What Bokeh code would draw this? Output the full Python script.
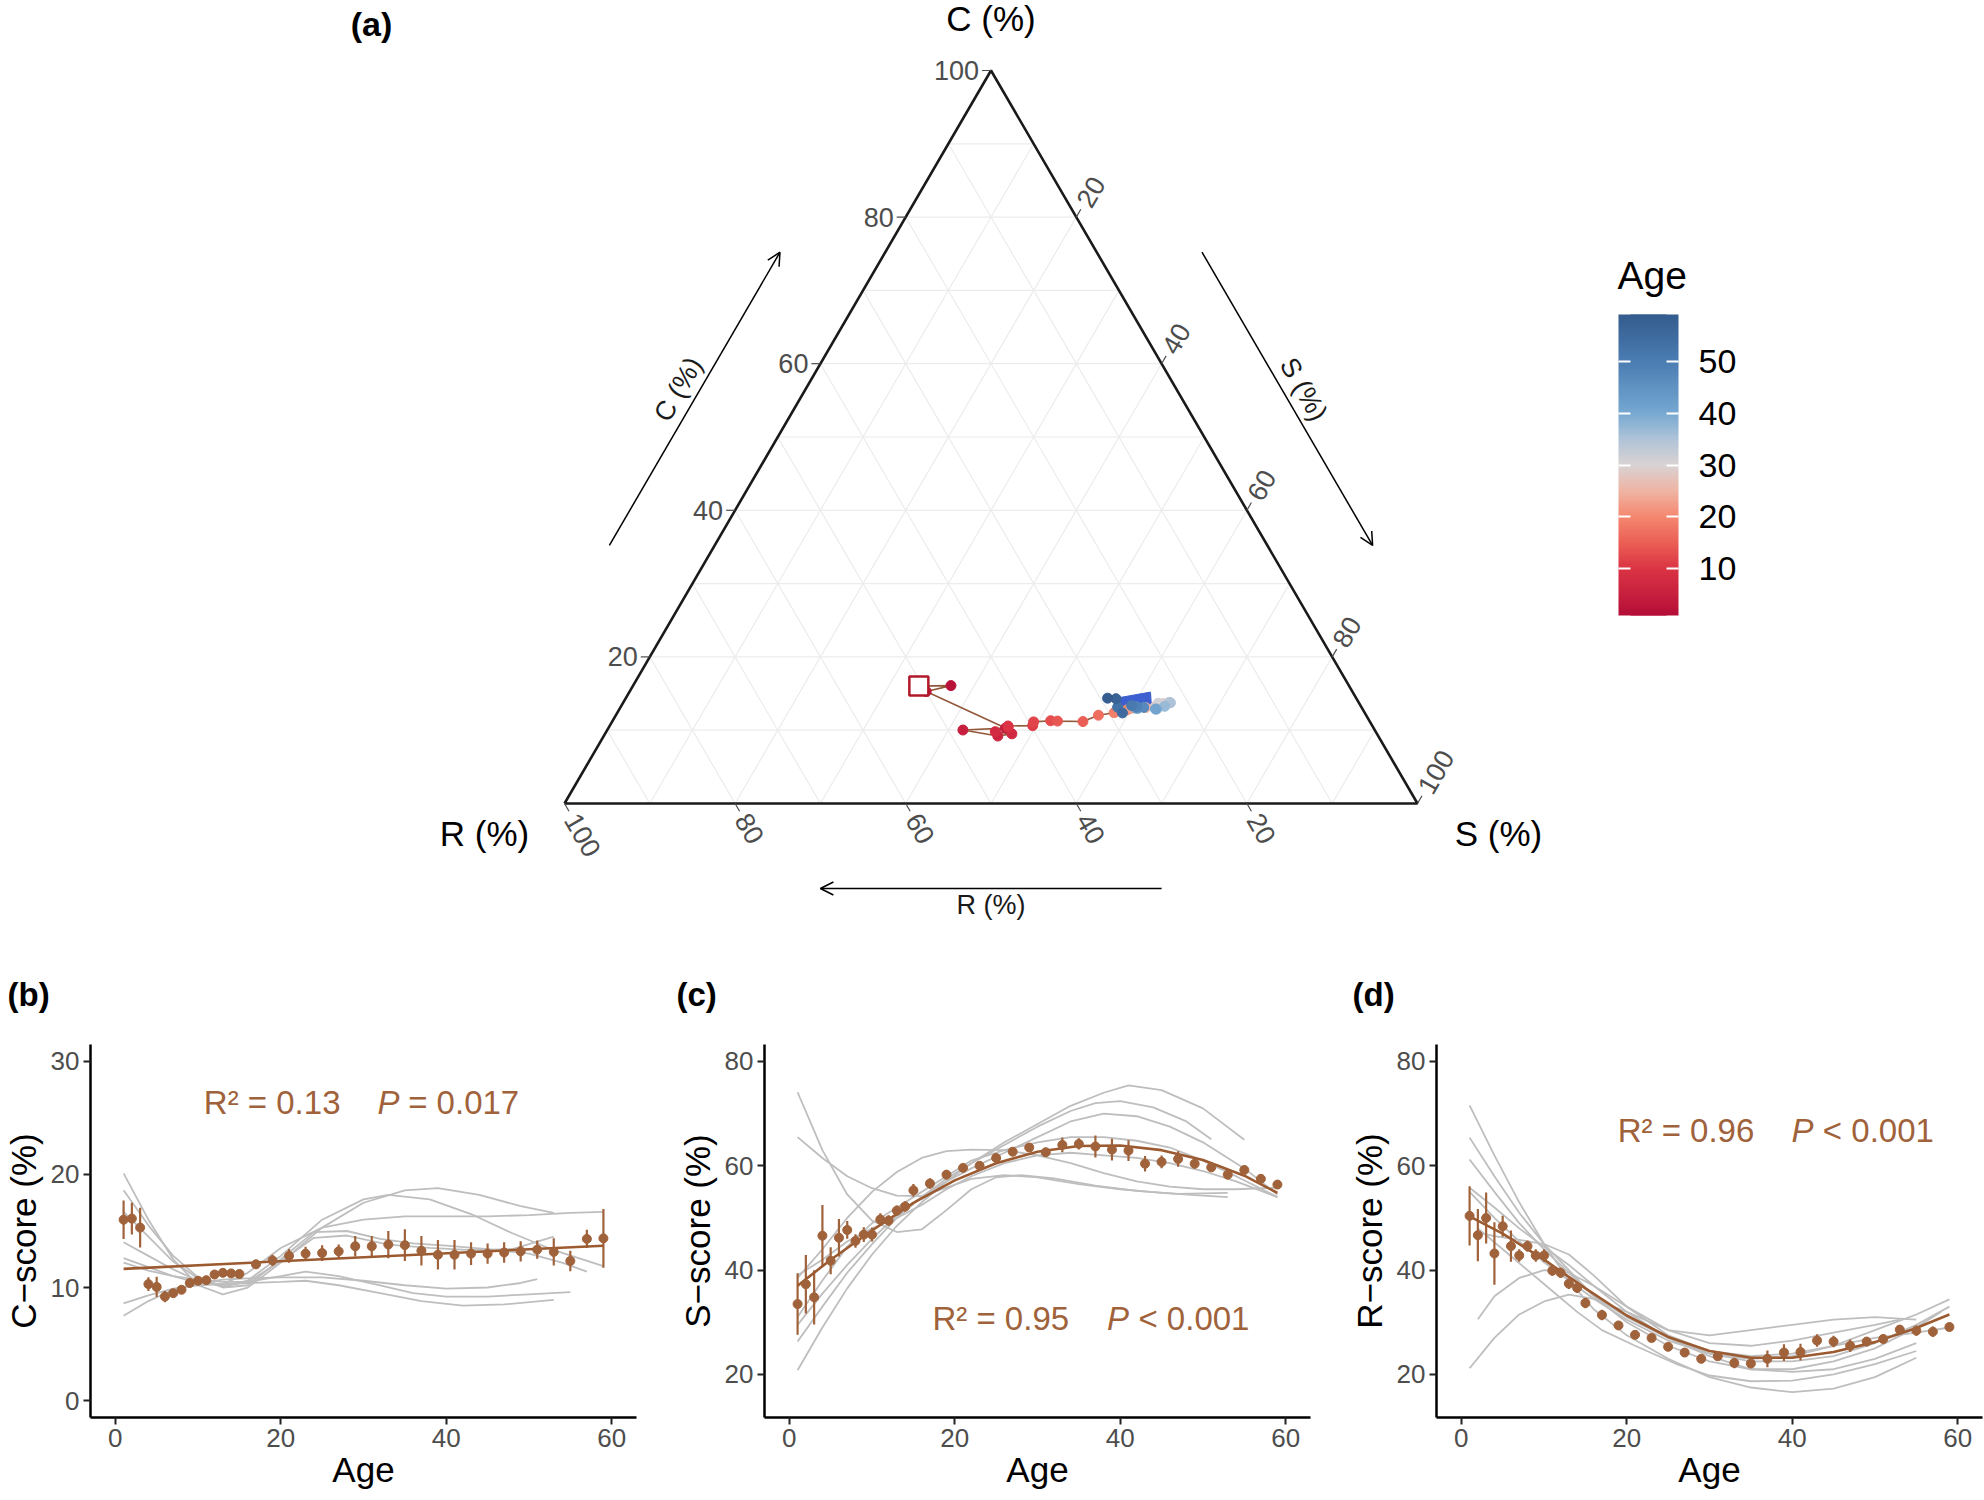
import numpy as np
from bokeh.plotting import figure
from bokeh.models import (Range1d, FixedTicker, ColumnDataSource, Label, Arrow, OpenHead,
                          LinearColorMapper, ColorBar)
from bokeh.layouts import column, row
from bokeh.embed import file_html
from bokeh.resources import INLINE
from bokeh.core.properties import value
from bokeh.transform import transform

# ---------------- data ----------------
ages = [1, 2, 3, 4, 5, 6, 7, 8, 9, 10, 11, 12, 13, 14, 15,
        17, 19, 21, 23, 25, 27, 29, 31, 33, 35, 37, 39, 41, 43, 45, 47, 49, 51, 53, 55, 57, 59]

c_mean = [16.0, 16.1, 15.3, 10.3, 10.05, 9.2, 9.5, 9.8, 10.4, 10.6, 10.65, 11.15, 11.3, 11.25, 11.2,
          12.05, 12.4, 12.8, 13.0, 13.05, 13.2, 13.65, 13.65, 13.8, 13.75, 13.25, 12.9, 12.9, 13.0,
          13.0, 13.1, 13.2, 13.35, 13.15, 12.35, 14.3, 14.35]
c_err = [1.7, 1.4, 1.75, 0.6, 0.9, 0.5, 0.3, 0.3, 0.35, 0.3, 0.3, 0.3, 0.3, 0.3, 0.3,
         0.4, 0.5, 0.6, 0.6, 0.7, 0.6, 0.9, 0.9, 1.2, 1.4, 1.3, 1.3, 1.3, 1.0, 0.9, 0.9, 0.9,
         0.8, 1.2, 0.9, 0.8, 2.6]

s_mean = [33.5, 37.3, 34.8, 46.6, 41.8, 46.2, 47.7, 45.6, 46.8, 46.8, 49.7, 49.5, 51.4, 52.2, 55.3,
          56.6, 58.3, 59.6, 60.0, 61.5, 62.7, 63.5, 62.6, 64.0, 64.2, 63.7, 63.1, 62.9, 60.4,
          60.75, 61.3, 60.4, 59.7, 58.3, 59.2, 57.5, 56.4]
s_err = [5.9, 5.6, 5.2, 5.9, 2.6, 3.6, 1.7, 1.3, 1.4, 1.3, 1.2, 1.0, 1.0, 1.0, 1.2,
         1.0, 0.9, 0.7, 0.5, 0.6, 0.7, 0.8, 0.8, 1.4, 1.1, 2.1, 2.1, 2.0, 1.5, 1.2, 1.5, 0.9,
         0.8, 0.9, 0.6, 0.5, 0.6]

r_mean = [50.4, 46.7, 50.0, 43.2, 48.4, 44.6, 42.8, 44.6, 42.8, 42.8, 39.9, 39.5, 37.4, 36.6, 33.7,
          31.4, 29.4, 27.6, 27.0, 25.3, 24.2, 23.0, 23.5, 22.2, 22.1, 23.0, 24.2, 24.3, 26.5,
          26.3, 25.5, 26.3, 26.8, 28.6, 28.4, 28.2, 29.1]
r_err = [5.7, 5.0, 4.9, 6.0, 2.0, 3.0, 1.2, 1.1, 1.2, 1.2, 1.0, 1.0, 1.0, 1.0, 1.0,
         1.0, 0.7, 0.6, 0.6, 0.5, 0.6, 0.5, 0.7, 1.0, 0.8, 1.6, 1.6, 1.6, 1.2, 1.1, 1.2, 0.9,
         0.8, 0.9, 1.0, 1.0, 0.6]

# fitted (population) curves
c_fit_age = [1, 59]
c_fit_val = [11.65, 13.7]
s_fit_age = [1, 5, 10, 15, 20, 25, 30, 35, 40, 45, 50, 55, 59]
s_fit_val = [37.0, 42.0, 47.6, 52.9, 57.2, 60.5, 62.7, 63.8, 63.9, 63.0, 61.1, 58.1, 54.8]
r_fit_age = [1, 5, 10, 15, 20, 25, 30, 35, 40, 45, 50, 55, 59]
r_fit_val = [50.3, 47.0, 42.0, 36.5, 31.3, 27.2, 24.5, 23.2, 23.2, 24.3, 26.2, 28.9, 31.5]

# individual (grey) curves
c_gray_ages = [
    [1, 4, 7, 10, 13, 16, 20, 25, 30, 35, 39, 44, 49, 53],
    [1, 4, 7, 10, 13, 16, 20, 25, 30, 33, 38, 43, 48, 53, 59],
    [1, 4, 7, 10, 13, 16, 20, 25, 30, 35, 40, 45, 50, 55, 59],
    [1, 4, 7, 10, 13, 16, 20, 24, 28, 32, 36, 40, 45, 50, 54, 57],
    [1, 4, 7, 10, 13, 16, 20, 23, 27, 32, 36, 40, 45, 50, 55],
    [1, 4, 7, 10, 13, 16, 20, 25, 30, 35, 40, 45, 49, 51],
    [1, 4, 7, 10, 13, 16, 20, 23, 27, 32, 37, 42, 47, 53],
    [1, 4, 7, 10, 13, 16, 20, 24, 28, 33, 38, 43, 48, 53],
]
c_gray_vals = [
    [20.1, 16.0, 12.5, 10.2, 9.4, 10.0, 12.2, 15.3, 17.5, 18.6, 18.8, 18.2, 17.2, 16.6],
    [18.6, 15.5, 12.8, 10.9, 10.1, 10.6, 12.8, 16.0, 17.8, 18.2, 17.8, 16.5, 14.8, 13.3, 11.9],
    [12.6, 11.8, 11.0, 10.4, 10.3, 11.3, 13.5, 15.3, 16.0, 16.3, 16.3, 16.3, 16.4, 16.6, 16.7],
    [16.7, 14.5, 12.3, 10.8, 10.0, 10.2, 12.5, 14.9, 15.0, 14.3, 13.9, 13.7, 13.4, 13.0, 12.2, 11.4],
    [12.2, 11.5, 11.0, 10.7, 10.5, 10.5, 11.0, 11.4, 11.0, 10.2, 9.5, 9.2, 9.2, 9.4, 9.6],
    [7.5, 8.8, 9.8, 10.4, 10.7, 10.8, 10.9, 10.9, 10.6, 10.2, 9.9, 10.0, 10.4, 10.75],
    [8.6, 9.3, 9.9, 10.2, 10.3, 10.4, 10.5, 10.6, 10.2, 9.5, 8.8, 8.4, 8.5, 8.9],
    [14.0, 12.8, 11.6, 10.6, 10.1, 10.5, 12.3, 14.4, 14.6, 13.8, 13.5, 13.3, 13.4, 14.5],
]
s_gray_ages = [
    [1, 4, 7, 10, 13, 16, 19, 22, 25, 28, 32, 37, 42, 47, 53],
    [1, 4, 7, 10, 13, 16, 19, 22, 26, 30, 35, 40, 45, 50, 53],
    [1, 4, 7, 10, 13, 16, 19, 22, 26, 30, 34, 38, 42, 46, 50, 54, 59],
    [1, 4, 7, 10, 13, 16, 19, 22, 26, 30, 34, 38, 41, 45, 50, 55],
    [1, 4, 7, 10, 13, 16, 19, 22, 26, 30, 34, 37, 40, 44, 48, 51],
    [1, 4, 7, 10, 13, 16, 19, 22, 26, 30, 34, 38, 42, 46, 50, 55, 59],
    [1, 4, 7, 10, 13, 16, 19, 22, 26, 30, 34, 38, 42, 46, 50, 54, 59],
    [1, 4, 7, 10, 13, 16, 19, 22, 26, 30, 34, 38, 42, 46, 50, 54, 59],
]
s_gray_vals = [
    [74.1, 63.0, 54.5, 49.5, 47.3, 47.8, 51.5, 55.5, 57.8, 58.2, 57.6, 56.2, 55.2, 54.6, 54.8],
    [65.5, 61.5, 58.0, 55.7, 54.3, 54.2, 55.8, 57.5, 58.2, 57.8, 56.5, 55.5, 54.8, 54.3, 54.0],
    [38.5, 44.0, 50.0, 55.0, 58.8, 61.5, 62.8, 63.1, 63.0, 62.0, 60.5, 58.6, 57.0, 56.0, 55.5, 55.5, 55.8],
    [20.8, 29.0, 36.5, 43.0, 48.5, 53.0, 57.0, 60.5, 64.5, 68.0, 71.5, 74.0, 75.4, 74.5, 71.0, 65.0],
    [26.3, 33.0, 39.5, 45.0, 50.0, 54.0, 57.5, 60.5, 64.0, 67.5, 70.5, 72.0, 72.4, 71.2, 68.5, 65.1],
    [29.5, 35.5, 41.0, 46.0, 50.5, 54.0, 57.0, 59.5, 62.5, 65.5, 68.5, 70.0, 69.5, 67.5, 64.5, 59.5, 54.5],
    [31.0, 38.0, 44.5, 49.0, 52.0, 55.0, 58.0, 61.0, 63.0, 64.5, 65.5, 65.5, 64.8, 63.5, 61.0, 58.0, 54.0],
    [39.0, 42.0, 45.5, 48.0, 50.0, 52.5, 55.5, 58.0, 60.5, 62.0, 62.5, 62.0, 61.5, 60.5, 59.0, 57.0, 54.0],
]
r_gray_ages = [
    [1, 4, 7, 10, 13, 16, 20, 25, 30, 35, 40, 45, 50, 55],
    [1, 4, 7, 10, 13, 16, 20, 25, 30, 35, 40, 45, 50, 55, 58],
    [1, 4, 7, 10, 13, 16, 20, 25, 30, 35, 40, 45, 50, 55, 59],
    [1, 4, 7, 10, 13, 16, 20, 25, 30, 35, 40, 45, 50, 55],
    [2, 4, 7, 10, 13, 16, 20, 25, 30, 35, 40, 45, 50, 55, 59],
    [2, 4, 7, 10, 13, 16, 20, 25, 30, 35, 40, 45, 50, 53],
    [1, 4, 7, 10, 13, 16, 20, 25, 30, 35, 40, 45, 50, 55],
    [2, 5, 8, 11, 14, 17, 21, 26, 30, 35, 40, 45, 50, 55],
    [1, 4, 7, 10, 13, 16, 20, 25, 30, 35, 40, 45, 50, 55, 59],
]
r_gray_vals = [
    [71.6, 62.0, 53.0, 45.0, 38.0, 32.5, 27.5, 23.0, 19.5, 17.5, 16.6, 17.3, 19.5, 23.2],
    [65.4, 58.0, 51.0, 45.0, 40.0, 35.0, 30.0, 25.5, 22.5, 21.0, 21.0, 22.5, 25.0, 29.0, 32.0],
    [61.2, 55.0, 49.0, 44.0, 39.5, 35.0, 31.0, 27.0, 24.0, 22.5, 22.5, 23.5, 26.0, 29.5, 33.0],
    [55.8, 52.0, 48.0, 44.5, 41.0, 37.0, 32.0, 27.0, 23.5, 21.0, 20.5, 21.0, 23.0, 26.0],
    [47.2, 46.5, 45.8, 45.0, 43.0, 39.0, 33.0, 27.5, 24.5, 23.5, 24.0, 25.5, 27.0, 28.0, 29.0],
    [30.6, 35.0, 38.5, 40.0, 39.5, 37.0, 33.0, 28.5, 26.0, 25.5, 26.5, 28.0, 29.5, 30.5],
    [21.2, 27.0, 31.5, 34.0, 35.3, 34.5, 32.0, 28.5, 27.5, 28.5, 29.5, 30.5, 31.0, 30.5],
    [48.0, 44.0, 40.0, 36.0, 32.0, 28.5, 25.5, 22.0, 19.8, 18.7, 18.8, 20.0, 22.0, 24.5],
    [55.0, 50.0, 45.5, 41.5, 38.0, 34.5, 30.5, 26.5, 24.0, 23.0, 23.5, 25.5, 28.5, 31.5, 34.4],
]

# filled blue polygon in the ternary plot (C, S, R of its corners)
poly_C = [14.3, 15.2, 13.4, 13.0]
poly_S = [57.2, 61.1, 62.1, 58.7]
poly_R = [28.5, 23.7, 24.5, 28.3]

tern_ticks = [20, 40, 60, 80, 100]
tern_grid = [10, 20, 30, 40, 50, 60, 70, 80, 90]
age_ticks = [10, 20, 30, 40, 50]

# colour scale anchors (Age -> colour)
cmap_vals = [1, 5, 10, 15, 20, 25, 30, 35, 40, 50, 59]
cmap_cols = ["#B40E38", "#C8203E", "#DB3444", "#EB5F55", "#F4876F", "#EFB4A4",
             "#DAD3D3", "#AFC4D8", "#77A9D2", "#4B7DB3", "#345C8E"]

# ---------------- styling ----------------
FONT = "Liberation Sans"
BROWN = "#A0623A"
BROWN_LINE = "#9C5A30"
GREY = "#BEBEBE"
TICKCOL = "#4D4D4D"


def hex2rgb(h):
    return [int(h[i:i + 2], 16) for i in (1, 3, 5)]


rgbs = np.array([hex2rgb(c) for c in cmap_cols], dtype=float)
palette = []
for k in range(256):
    v = cmap_vals[0] + (cmap_vals[-1] - cmap_vals[0]) * k / 255.0
    rgb = [int(round(np.interp(v, cmap_vals, rgbs[:, j]))) for j in range(3)]
    palette.append("#%02x%02x%02x" % tuple(rgb))
mapper = LinearColorMapper(palette=palette, low=min(ages), high=max(ages))

# ---------------- layout geometry ----------------
FRAME_W, FRAME_H = 546, 373
TOP_B, BOT_B = 106, 83
H_BOT = TOP_B + FRAME_H + BOT_B
W_TOP, H_TOP = 1984, 1500 - H_BOT

# ---------------- ternary (a) ----------------
SX, SY = 8.53, 8.464      # px per data unit
BLX, BLY = 564, 803       # pixel position of the R vertex
SQ3 = np.sqrt(3) / 2


def tern(c, s, r):
    c, s, r = (np.asarray(v, dtype=float) for v in (c, s, r))
    t = c + s + r
    c, s = c / t * 100, s / t * 100
    return s + c / 2, c * SQ3


pa = figure(width=W_TOP, height=H_TOP, output_backend="svg", toolbar_location=None,
            x_range=Range1d(-BLX / SX, (W_TOP - BLX) / SX),
            y_range=Range1d(-(H_TOP - BLY) / SY, BLY / SY),
            x_axis_location=None, y_axis_location=None, min_border=0)
pa.grid.visible = False
pa.outline_line_color = None

# grid
gx, gy = [], []
for v in tern_grid:
    for a, b in [((v, 0, 100 - v), (v, 100 - v, 0)),      # const C
                 ((0, v, 100 - v), (100 - v, v, 0)),      # const S
                 ((0, 100 - v, v), (100 - v, 0, v))]:     # const R
        x0, y0 = tern(*a)
        x1, y1 = tern(*b)
        gx.append([float(x0), float(x1)])
        gy.append([float(y0), float(y1)])
pa.multi_line(gx, gy, line_color="#ECECEC", line_width=1.2)

# triangle
tx, ty = tern([0, 100, 0, 0], [0, 0, 100, 0], [100, 0, 0, 100])
pa.line(tx, ty, line_color="#1a1a1a", line_width=2.6)

# ticks
TL = 9.0
tv = np.array(tern_ticks, dtype=float)
cx, cy = tern(tv, 0 * tv, 100 - tv)
pa.segment(cx, cy, cx - TL / SX, cy, line_color=TICKCOL, line_width=1.2)
sx_, sy_ = tern(100 - tv, tv, 0 * tv)
pa.segment(sx_, sy_, sx_ + 0.5 * TL / SX, sy_ + SQ3 * TL / SY, line_color=TICKCOL, line_width=1.2)
rx, ry = tern(0 * tv, 100 - tv, tv)
pa.segment(rx, ry, rx + 0.5 * TL / SX, ry - SQ3 * TL / SY, line_color=TICKCOL, line_width=1.2)

labs = [str(t) for t in tern_ticks]
common = dict(text_font=value(FONT), text_font_size="27px", text_color=TICKCOL, text_baseline="middle")
pa.text(cx, cy, text=labs, text_align="right", x_offset=-12, **common)
pa.text(sx_, sy_, text=labs, text_align="left", angle=np.pi / 3, x_offset=7, y_offset=-12, **common)
pa.text(rx, ry, text=labs, text_align="left", angle=-np.pi / 3, x_offset=7, y_offset=12, **common)

# vertex titles
vt = dict(text_font=value(FONT), text_font_size="35px", text_color="black",
          text_align="center", text_baseline="middle")
pa.text([50], [100 * SQ3], text=["C (%)"], y_offset=-52, **vt)
pa.text([0], [0], text=["R (%)"], x_offset=-80, y_offset=30, **vt)
pa.text([100], [0], text=["S (%)"], x_offset=81, y_offset=30, **vt)

# arrows
OFF = 91.0
nxl, nyl = -SQ3 * OFF / SX, 0.5 * OFF / SY
ax0, ay0 = 0.29 * 50 + nxl, 0.29 * 100 * SQ3 + nyl
ax1, ay1 = 0.69 * 50 + nxl, 0.69 * 100 * SQ3 + nyl
head = dict(size=13, line_width=1.5, line_color="black")
pa.add_layout(Arrow(x_start=ax0, y_start=ay0, x_end=ax1, y_end=ay1,
                    line_width=1.5, line_color="black", end=OpenHead(**head)))
pa.add_layout(Arrow(x_start=100 - ax1, y_start=ay1, x_end=100 - ax0, y_end=ay0,
                    line_width=1.5, line_color="black", end=OpenHead(**head)))
by = -85.0 / SY
pa.add_layout(Arrow(x_start=70, y_start=by, x_end=30, y_end=by,
                    line_width=1.5, line_color="black", end=OpenHead(**head)))
al = dict(text_font=value(FONT), text_font_size="27px", text_color="#1a1a1a",
          text_align="center", text_baseline="middle")
OFF2 = 110.0
pa.text([0.49 * 50 - SQ3 * OFF2 / SX], [0.49 * 100 * SQ3 + 0.5 * OFF2 / SY], text=["C (%)"],
        angle=np.pi / 3, **al)
pa.text([100 - 0.49 * 50 + SQ3 * OFF2 / SX], [0.49 * 100 * SQ3 + 0.5 * OFF2 / SY], text=["S (%)"],
        angle=-np.pi / 3, **al)
pa.text([50], [-101.0 / SY], text=["R (%)"], **al)

# data path
X, Y = tern(c_mean, s_mean, r_mean)
px_, py_ = tern(poly_C, poly_S, poly_R)
pa.patch(px_, py_, fill_color="#3D5FCF", line_color="#3D5FCF")
pa.line(X, Y, line_color="#93583A", line_width=1.6)
src = ColumnDataSource(dict(x=X, y=Y, age=ages))
pa.scatter("x", "y", source=src, size=10, fill_color=transform("age", mapper),
           line_color=transform("age", mapper))
pa.scatter(X[:1], Y[:1], marker="square", size=19, fill_color="white",
           line_color="#B2182B", line_width=2.5)

pa.add_layout(Label(x=371, y=H_TOP - 23, x_units="screen", y_units="screen", text="(a)",
                    text_font=FONT, text_font_size="34px", text_font_style="bold",
                    text_color="black", text_align="center", text_baseline="middle"))

# colour bar legend (white ticks on both edges: full-width ticks, then a narrower bar on top)
pa.add_layout(Label(x=1617, y=H_TOP - 275, x_units="screen", y_units="screen", text="Age",
                    text_font=FONT, text_font_size="39px", text_color="black",
                    text_align="left", text_baseline="middle"))
cb = ColorBar(color_mapper=mapper, ticker=FixedTicker(ticks=age_ticks), width=60, height=301,
              location=(1618, H_TOP - 615), padding=0, title=None,
              major_label_text_font=FONT, major_label_text_font_size="34px",
              major_label_text_color="black", label_standoff=20, major_tick_line_color="white",
              major_tick_line_width=2, major_tick_in=60, major_tick_out=0,
              minor_tick_line_color=None, bar_line_color=None, border_line_color=None,
              background_fill_color=None)
pa.add_layout(cb)
cb2 = ColorBar(color_mapper=mapper, ticker=FixedTicker(ticks=age_ticks), width=36, height=301,
               location=(1630, H_TOP - 615), padding=0, title=None,
               major_label_text_color=None, major_label_text_font_size="34px",
               label_standoff=20, major_tick_line_color=None, minor_tick_line_color=None,
               bar_line_color=None, border_line_color=None, background_fill_color=None)
pa.add_layout(cb2)


# ---------------- panels (b)-(d) ----------------
def panel(tag, tag_x, ylab, mean, err, fit_age, fit_val, g_ages, g_vals, yr, yticks,
          ann_y, ann_x, ann_txt, lb, rb):
    p = figure(frame_width=FRAME_W, frame_height=FRAME_H, x_range=Range1d(-3, 63),
               y_range=Range1d(*yr), output_backend="svg", toolbar_location=None,
               min_border_left=lb, min_border_right=rb, min_border_top=TOP_B,
               min_border_bottom=BOT_B)
    p.grid.visible = False
    p.outline_line_color = None
    p.title.text = tag
    p.title.align = "left"
    p.title.offset = tag_x - lb
    p.title.standoff = 64
    p.title.vertical_align = "bottom"
    p.title.text_font = FONT
    p.title.text_font_size = "33px"
    p.title.text_font_style = "bold"
    p.title.text_color = "black"

    p.multi_line(g_ages, g_vals, line_color=GREY, line_width=1.8)
    m = np.array(mean)
    e = np.array(err)
    p.segment(ages, m - e, ages, m + e, line_color=BROWN, line_width=2.2)
    p.line(fit_age, fit_val, line_color=BROWN_LINE, line_width=2.6)
    p.scatter(ages, mean, size=9, fill_color=BROWN, line_color=BROWN)
    t = dict(text_font=value(FONT), text_font_size="33px", text_color=BROWN,
             text_baseline="middle", text_align="left")
    p.text([ann_x[0]], [ann_y], text=[ann_txt[0]], **t)
    p.text([ann_x[1]], [ann_y], text=[ann_txt[1]], text_font_style="italic", **t)
    p.text([ann_x[2]], [ann_y], text=[ann_txt[2]], **t)

    p.xaxis.ticker = FixedTicker(ticks=[0, 20, 40, 60])
    p.yaxis.ticker = FixedTicker(ticks=yticks)
    p.xaxis.axis_label = "Age"
    p.yaxis.axis_label = ylab
    for ax in (p.xaxis[0], p.yaxis[0]):
        ax.axis_line_width = 2.5
        ax.axis_line_color = "black"
        ax.major_tick_line_width = 2
        ax.major_tick_line_color = "#222222"
        ax.major_tick_out = 7
        ax.major_tick_in = 0
        ax.minor_tick_line_color = None
        ax.major_label_text_font = FONT
        ax.major_label_text_font_size = "26px"
        ax.major_label_text_color = TICKCOL
        ax.major_label_standoff = 4
        ax.axis_label_text_font = FONT
        ax.axis_label_text_font_size = "35px"
        ax.axis_label_text_font_style = "normal"
        ax.axis_label_text_color = "black"
    p.xaxis.axis_label_standoff = 0
    p.yaxis.axis_label_standoff = 5
    return p


pb = panel("(b)", 6, "C\u2212score (%)", c_mean, c_err, c_fit_age, c_fit_val,
           c_gray_ages, c_gray_vals, (-1.5, 31.5), [0, 10, 20, 30],
           26.4, [10.7, 31.7, 35.4], ["R\u00b2 = 0.13", "P", "= 0.017"], 89, 36)
pc = panel("(c)", 4, "S\u2212score (%)", s_mean, s_err, s_fit_age, s_fit_val,
           s_gray_ages, s_gray_vals, (11.75, 83.25), [20, 40, 60, 80],
           30.8, [17.3, 38.4, 42.2], ["R\u00b2 = 0.95", "P", "< 0.001"], 92, 34)
pd = panel("(d)", 8, "R\u2212score (%)", r_mean, r_err, r_fit_age, r_fit_val,
           r_gray_ages, r_gray_vals, (11.75, 83.25), [20, 40, 60, 80],
           66.7, [18.9, 39.9, 43.7], ["R\u00b2 = 0.96", "P", "< 0.001"], 92, 3)

layout = column(pa, row(pb, pc, pd))
open("out.html", "w").write(file_html(layout, INLINE))
